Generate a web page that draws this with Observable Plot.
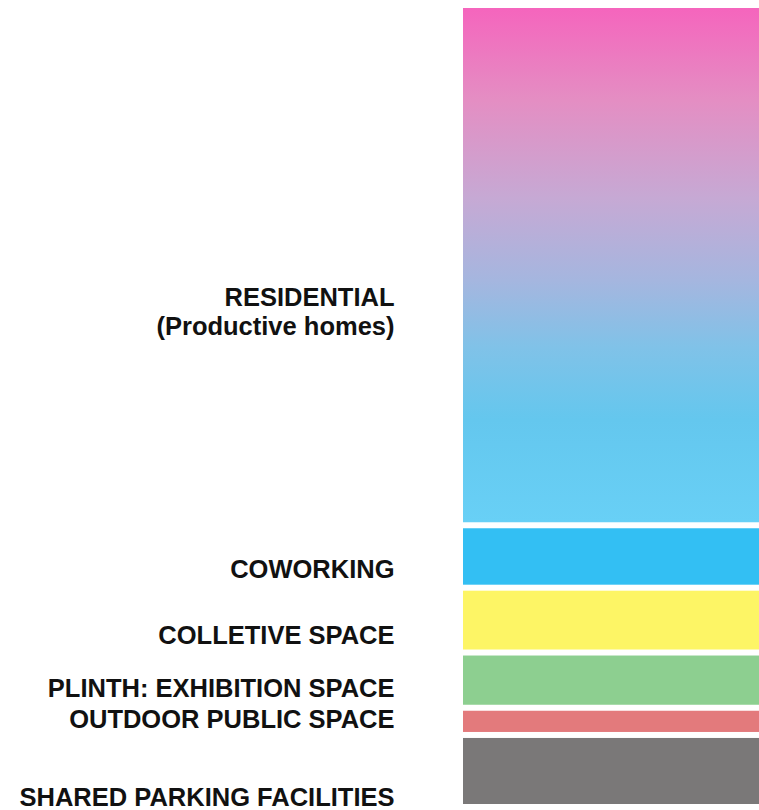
<!DOCTYPE html>
<html>
<head>
<meta charset="utf-8">
<script src="https://cdn.jsdelivr.net/npm/d3@7"></script>
<script src="https://cdn.jsdelivr.net/npm/@observablehq/plot@0.6"></script>
<style>
  html, body { margin: 0; padding: 0; background: #fff; }
  #chart svg { display: block; }
</style>
</head>
<body>
<div id="chart"></div>
<script>
// Program shares (percent of floor area), top to bottom
const categories = [
  "RESIDENTIAL\n(Productive homes)",
  "COWORKING",
  "COLLETIVE SPACE",
  "PLINTH: EXHIBITION SPACE",
  "OUTDOOR PUBLIC SPACE",
  "SHARED PARKING FACILITIES"
];
const shares = [65, 7.8, 8.1, 6.9, 3.4, 9.0];
const colors = ["url(#residential-gradient)", "#33BFF3", "#FDF565", "#8DCF90", "#E37A7C", "#7A7878"];
// label anchor positions, in the same percent units measured from the top
const labelY = [38.2, 70.4, 78.6, 85.3, 89.1, 98.8];
// gradient stops for the residential block
const gradientStops = [
  [0, "#F565BD"], [0.18, "#E48EC3"], [0.37, "#C6A9D4"], [0.53, "#A5B6DF"],
  [0.66, "#80C2E8"], [0.8, "#64C7EE"], [1, "#68D0F6"]
];

const data = categories.map((label, i) => ({
  label, value: shares[i], color: colors[i], labelY: labelY[i]
}));
const total = d3.sum(shares);

function gradientDefs() {
  const ns = "http://www.w3.org/2000/svg";
  const defs = document.createElementNS(ns, "defs");
  const lg = document.createElementNS(ns, "linearGradient");
  lg.setAttribute("id", "residential-gradient");
  lg.setAttribute("x1", "0"); lg.setAttribute("y1", "0");
  lg.setAttribute("x2", "0"); lg.setAttribute("y2", "1");
  for (const [o, c] of gradientStops) {
    const s = document.createElementNS(ns, "stop");
    s.setAttribute("offset", o);
    s.setAttribute("stop-color", c);
    lg.appendChild(s);
  }
  defs.appendChild(lg);
  return defs;
}

const chart = Plot.plot({
  width: 759,
  height: 810,
  marginLeft: 463,
  marginRight: 0,
  marginTop: 5,
  marginBottom: 3,
  style: { fontFamily: "'Liberation Sans', Arial, sans-serif", background: "#fff" },
  x: { axis: null, padding: 0 },
  y: { axis: null, reverse: true, domain: [0, total] },
  color: { type: "identity" },
  marks: [
    gradientDefs,
    Plot.barY(data, {
      x: () => "program",
      y: "value",
      fill: "color",
      insetTop: 3,
      insetBottom: 3
    }),
    Plot.text(data, {
      y: "labelY",
      frameAnchor: "left",
      dx: -69,
      textAnchor: "end",
      lineAnchor: "middle",
      lineHeight: 1.13,
      text: "label",
      fontSize: 25.5,
      fontWeight: 700,
      fill: "#111"
    })
  ]
});
document.getElementById("chart").appendChild(chart);
</script>
</body>
</html>
